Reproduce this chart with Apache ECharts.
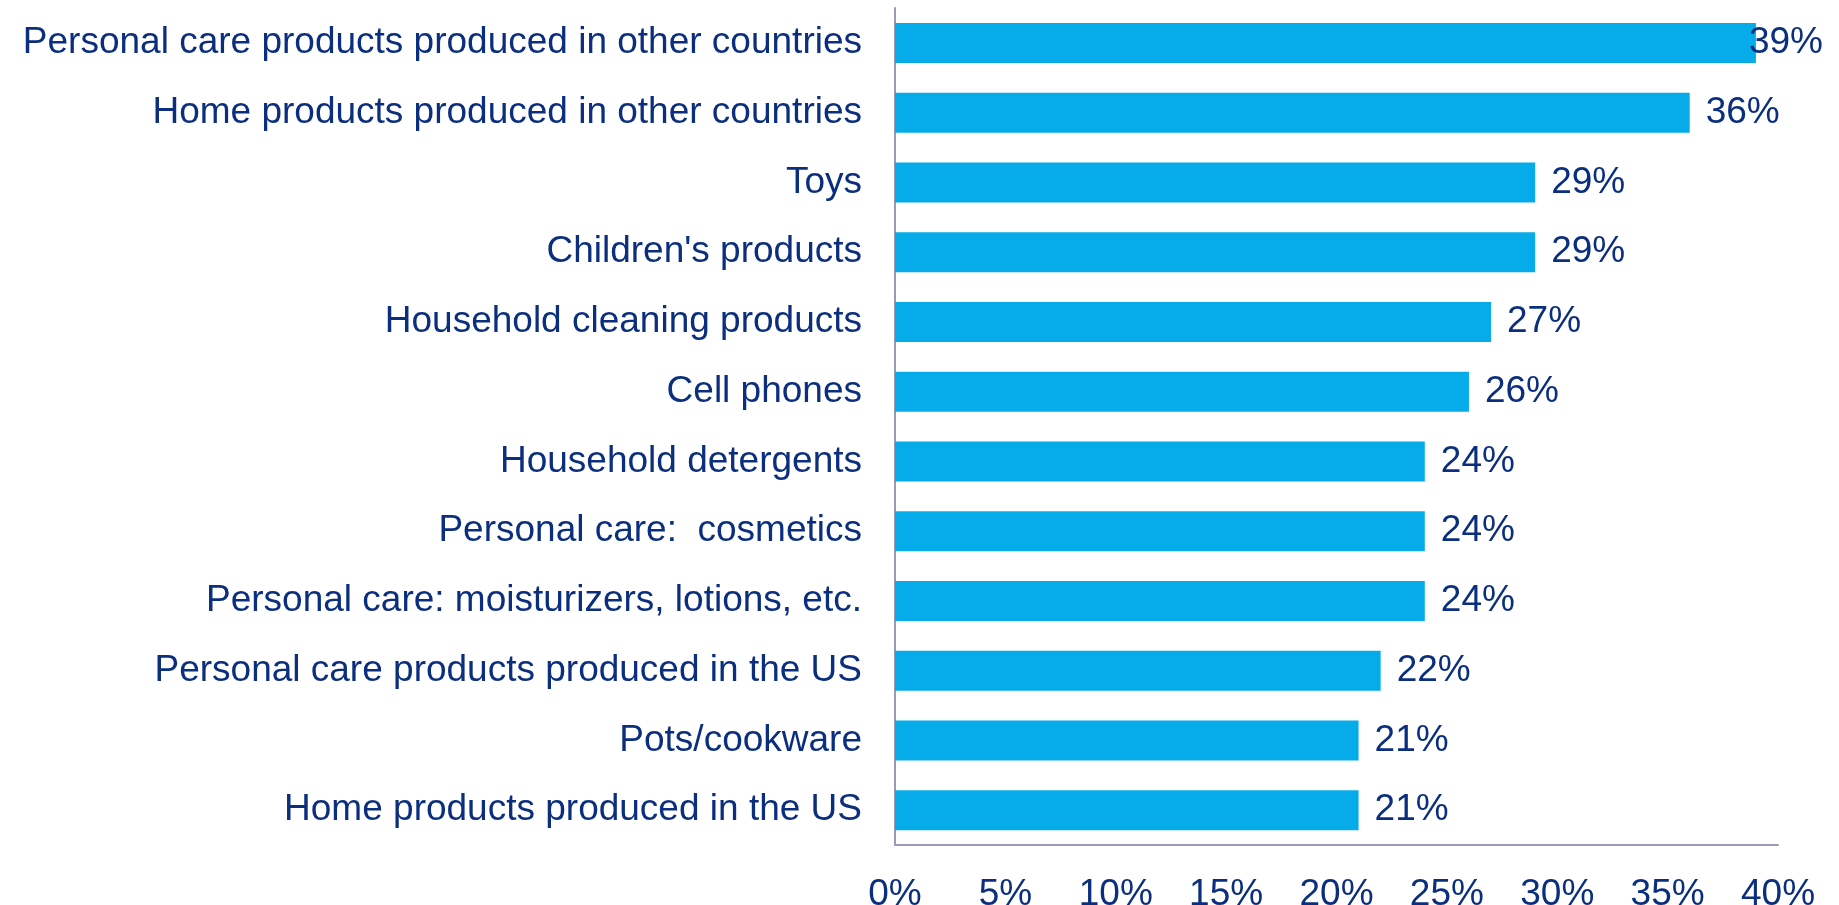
<!DOCTYPE html>
<html><head><meta charset="utf-8">
<script src="https://cdn.jsdelivr.net/npm/echarts@6/dist/echarts.min.js"></script>
<style>html,body{margin:0;padding:0;background:#fff}#c{width:1839px;height:905px}</style>
</head><body><div id="c"></div>
<script>
const categories = [
  "Personal care products produced in other countries",
  "Home products produced in other countries",
  "Toys",
  "Children's products",
  "Household cleaning products",
  "Cell phones",
  "Household detergents",
  "Personal care:  cosmetics",
  "Personal care: moisturizers, lotions, etc.",
  "Personal care products produced in the US",
  "Pots/cookware",
  "Home products produced in the US"
];
const values = [39, 36, 29, 29, 27, 26, 24, 24, 24, 22, 21, 21];
const tickLabels = ["0%", "5%", "10%", "15%", "20%", "25%", "30%", "35%", "40%"];

const textColor = '#0B2F7E';
const font = '"Liberation Sans", Arial, sans-serif';
const fs = 37;
const chart = echarts.init(document.getElementById('c'), null, {renderer: 'canvas'});
chart.setOption({
  animation: false,
  grid: {left: 895, right: 61, top: 8, bottom: 60, containLabel: false, outerBoundsMode: 'none'},
  xAxis: {
    type: 'value', min: 0, max: 40, interval: 5,
    splitLine: {show: false},
    axisLine: {show: true, lineStyle: {color: '#9A9AB4', width: 2}},
    axisTick: {show: false},
    axisLabel: {
      color: textColor, fontSize: fs, fontFamily: font, margin: 31,
      formatter: v => tickLabels[Math.round(v / 5)]
    }
  },
  yAxis: {
    type: 'category', data: categories, inverse: true,
    axisLine: {show: true, lineStyle: {color: '#9A9AB4', width: 2}},
    axisTick: {show: false},
    axisLabel: {color: textColor, fontSize: fs, fontFamily: font, margin: 33, padding: [9, 0, 0, 0]}
  },
  series: [{
    type: 'bar',
    data: values.map((v, i) => i === 0
      ? {value: v, label: {distance: -7}}
      : v),
    barWidth: 40,
    itemStyle: {color: '#06ACE9'},
    label: {
      show: true, position: 'right', distance: 16, padding: [9, 0, 0, 0],
      color: textColor, fontSize: fs, fontFamily: font,
      formatter: p => p.value + '%'
    }
  }]
});
</script></body></html>
